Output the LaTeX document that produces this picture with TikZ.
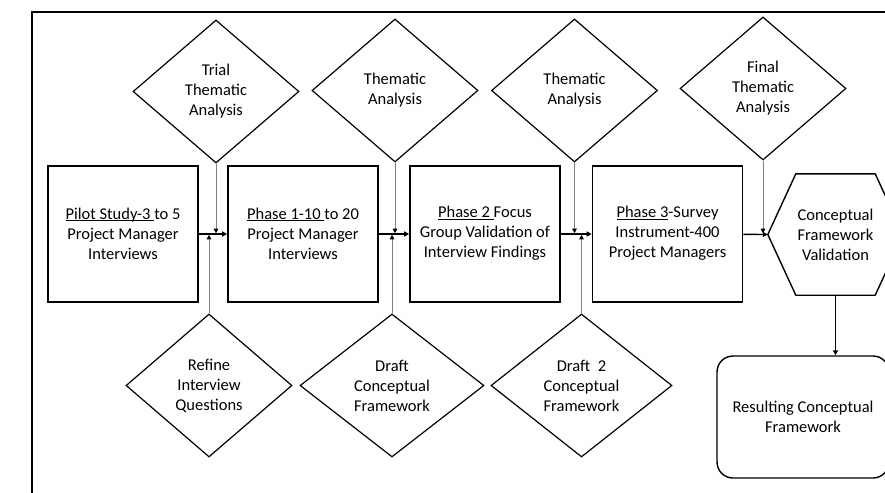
\documentclass[tikz,border=0pt]{standalone}
\usepackage{fontspec}
\setmainfont{Carlito}
\usetikzlibrary{shapes.geometric,arrows.meta}
\newcommand\ulpart[1]{\underline{\smash{#1}}}

\begin{document}
\begin{tikzpicture}[x=1pt,y=-1pt,
	font=\fontsize{16.5}{20}\selectfont,
	box/.style={draw,line width=1.6pt,minimum width=150pt,minimum height=136pt,inner sep=0pt,align=center},
	choice/.style={draw,diamond,line width=1.2pt,minimum width=166pt,minimum height=143pt,inner sep=0pt,align=center},
	flow/.style={line width=1.4pt,-{Triangle[length=5pt,width=5pt]}},
	feed/.style={gray,line width=0.7pt,shorten >=0.8pt,-{Triangle[length=4.5pt,width=4.5pt,black]}}]

	\clip (0,0) rectangle (885,492);
	\draw[line width=1.4pt] (32,12) rectangle (920,520);

	\node[box] (pilot) at (123,234) {\ulpart{Pilot Study-3\ }to 5\\Project Manager\\Interviews};
	\node[box] (phone) at (303,234) {\ulpart{Phase 1-10\ }to 20\\Project Manager\\Interviews};
	\node[box] (phtwo) at (485,234) {\ulpart{Phase 2\ }Focus\\Group Validation of\\Interview Findings};
	\node[box] (phthree) at (667.5,234) {\ulpart{Phase 3}-Survey\\Instrument-400\\Project Managers};

	\node[minimum width=135pt,minimum height=121pt,inner sep=0pt,align=center] (valid) at (835.5,234.5) {Conceptual\\Framework\\Validation};
	\draw[line width=1.4pt] (valid.west) -- ([xshift=28pt]valid.north west) -- ([xshift=-28pt]valid.north east)
		-- (valid.east) -- ([xshift=-28pt]valid.south east) -- ([xshift=28pt]valid.south west) -- cycle;
	\node[draw,line width=1.4pt,rounded corners=16pt,minimum width=172pt,minimum height=122pt,align=center] (result) at (803,417) {Resulting Conceptual\\Framework};

	\node[choice] (trial) at (216,91.5) {Trial\\Thematic\\Analysis};
	\node[choice] (thema) at (395,90.5) {Thematic\\Analysis};
	\node[choice] (themb) at (574.5,90.5) {Thematic\\Analysis};
	\node[choice] (final) at (763,88.5) {Final\\Thematic\\Analysis};

	\node[choice] (refine) at (209,385.5) {Refine\\Interview\\Questions};
	\node[choice,minimum width=184pt] (drafta) at (392,385.5) {Draft\\Conceptual\\Framework};
	\node[choice,minimum width=181pt] (draftb) at (581.5,385.5) {Draft~~2\\Conceptual\\Framework};

	\draw[flow] (pilot) -- (phone);
	\draw[flow] (phone) -- (phtwo);
	\draw[flow] (phtwo) -- (phthree);
	\draw[flow] (phthree) -- (valid.west);
	\draw[flow] (valid.south) -- (valid.south |- result.north);

	\draw[feed] (trial.south) -- (trial.south |- pilot.east);
	\draw[feed] (thema.south) -- (thema.south |- phone.east);
	\draw[feed] (themb.south) -- (themb.south |- phtwo.east);
	\draw[feed] (final.south) -- (final.south |- phthree.east);
	\draw[feed] (refine.north) -- (refine.north |- pilot.east);
	\draw[feed] (drafta.north) -- (drafta.north |- phone.east);
	\draw[feed] (draftb.north) -- (draftb.north |- phtwo.east);
\end{tikzpicture}
\end{document}
